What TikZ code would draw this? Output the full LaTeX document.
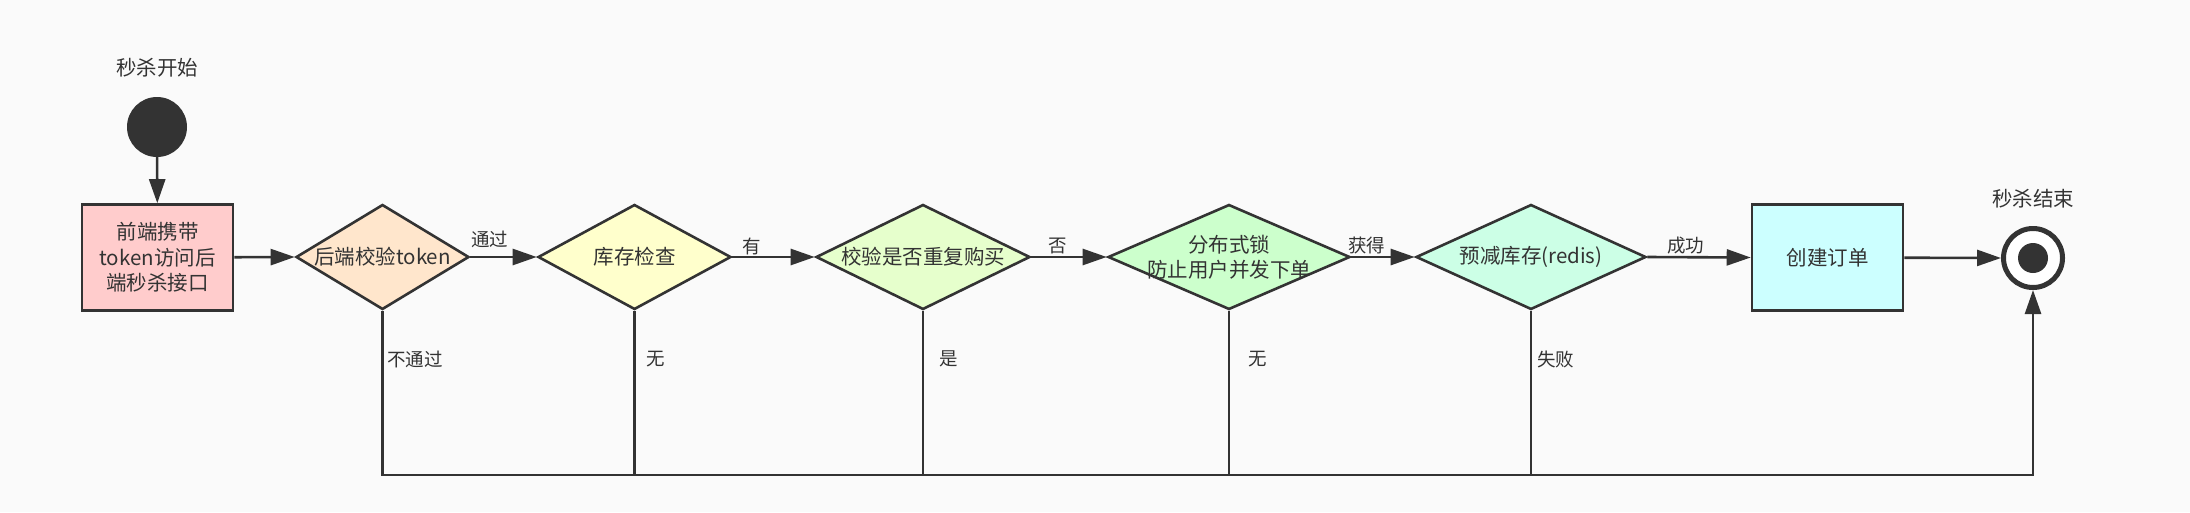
\documentclass[tikz,border=0pt]{standalone}
\usepackage{fontspec}
\setmainfont{Noto Sans CJK SC}
\usetikzlibrary{shapes.geometric,arrows.meta}
\definecolor{ink}{HTML}{333333}
\definecolor{bgc}{HTML}{FAFAFA}
\definecolor{cA}{HTML}{FFCCCC}
\definecolor{cB}{HTML}{FFE6CC}
\definecolor{cC}{HTML}{FFFFCC}
\definecolor{cD}{HTML}{E6FFCC}
\definecolor{cE}{HTML}{CCFFCC}
\definecolor{cF}{HTML}{CCFFE6}
\definecolor{cG}{HTML}{CCFFFF}
\begin{document}
\begin{tikzpicture}[x=1pt,y=-1pt,
  nt/.style={text=ink, font=\fontsize{20.5}{25.5}\selectfont, align=center, inner sep=0pt},
  el/.style={text=ink, font=\fontsize{18.5}{22}\selectfont, inner sep=0pt},
  boxnode/.style={nt, draw=ink, line width=2.6pt, rectangle, minimum width=151pt, minimum height=106pt},
  dia/.style={draw=ink, line width=2.6pt, diamond, inner sep=0pt, minimum height=105pt, minimum width=#1},
  ln/.style={draw=ink, line width=2.6pt},
  arr/.style={ln, -{Triangle[length=24pt,width=16pt]}},
]
\fill[bgc] (0,0) rectangle (2190,512);
\useasboundingbox (0,0) rectangle (2190,512);

% start
\node[nt] (st) at (157,68) {秒杀开始};
\node[circle, fill=ink, minimum size=60pt, inner sep=0pt] (s) at (157,127) {};
\node[boxnode, fill=cA] (b1) at (157.5,257.5) {前端携带\\token访问后\\端秒杀接口};

% decisions
\node[dia=173pt, fill=cB, label={[nt]center:后端校验token}] (d1) at (382.5,257) {};
\node[dia=193pt, fill=cC, label={[nt]center:库存检查}] (d2) at (634.5,257) {};
\node[dia=214pt, fill=cD, label={[nt]center:校验是否重复购买}] (d3) at (923,257) {};
\node[dia=242pt, fill=cE, label={[nt]center:分布式锁\\防止用户并发下单}] (d4) at (1229,257) {};
\node[dia=230pt, fill=cF, label={[nt]center:预减库存(redis)}] (d5) at (1531,257) {};

% create order
\node[boxnode, fill=cG] (b2) at (1827.5,257.5) {创建订单};

% end
\node[nt] (et) at (2033,199) {秒杀结束};
\node[circle, draw=ink, line width=5pt, fill=white, minimum size=59pt, inner sep=0pt] (e) at (2033,258) {};
\fill[ink] (e.center) circle (15pt);

% main flow
\draw[arr] (s) -- (b1);
\draw[arr] (b1) -- (d1.west);
\draw[arr] (d1.east) -- node[el, pos=0.29, yshift=18pt] {通过} (d2.west);
\draw[arr] (d2.east) -- node[el, pos=0.235, yshift=11pt] {有} (d3.west);
\draw[arr] (d3.east) -- node[el, pos=0.35, yshift=11pt] {否} (d4.west);
\draw[arr] (d4.east) -- node[el, pos=0.24, yshift=12pt] {获得} (d5.west);
\draw[arr] (d5.east) -- node[el, pos=0.37, yshift=12pt] {成功} (b2.west);
\draw[arr] (b2) -- (e.west);

% failure paths
\coordinate (bot) at (2033,475);
\draw[arr] (d1.south) |- (bot) -- (e.south);
\draw[ln] (d2.south) -- (d2.south |- bot);
\draw[ln] (d3.south) -- (d3.south |- bot);
\draw[ln] (d4.south) -- (d4.south |- bot);
\draw[ln] (d5.south) -- (d5.south |- bot);

\node[el, anchor=west] (l1) at (387,359) {不通过};
\node[el, anchor=west] (l2) at (646,359) {无};
\node[el, anchor=west] (l3) at (939,359) {是};
\node[el, anchor=west] (l4) at (1248,359) {无};
\node[el, anchor=west] (l5) at (1537,359) {失败};
\end{tikzpicture}
\end{document}
